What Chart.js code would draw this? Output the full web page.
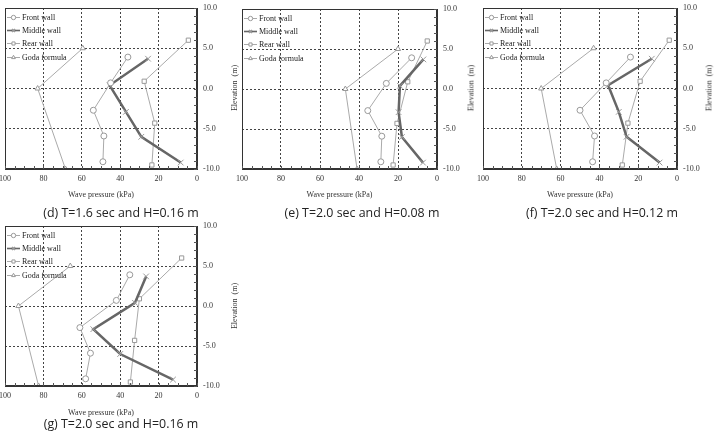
<!DOCTYPE html>
<html>
<head>
<meta charset="utf-8">
<script src="https://cdn.jsdelivr.net/npm/chart.js@4.4.0/dist/chart.umd.min.js"></script>
<style>
  body { margin: 0; background: #fff; }
  #fig { position: relative; width: 715px; height: 433px; overflow: hidden; }
  canvas { position: absolute; }
  .ytitle { position: absolute; font: 8px "Liberation Serif"; color: #333; white-space: nowrap;
            transform: translate(-50%, -50%) rotate(-90deg); }
  .cap { position: absolute; font: 12.4px "Open Sans"; color: #222; white-space: nowrap;
         transform: translate(-50%, -50%); }
</style>
</head>
<body>
<div id="fig">
  <canvas id="chartD" width="240" height="200" style="left:0;top:0"></canvas>
  <canvas id="chartE" width="250" height="200" style="left:225px;top:0"></canvas>
  <canvas id="chartF" width="250" height="200" style="left:465px;top:0"></canvas>
  <canvas id="chartG" width="240" height="200" style="left:0;top:218px"></canvas>

  <div class="ytitle" style="left:234px;top:88px">Elevation&nbsp;&nbsp;(m)</div>
  <div class="ytitle" style="left:471px;top:88px">Elevation&nbsp;&nbsp;(m)</div>
  <div class="ytitle" style="left:709px;top:88px">Elevation&nbsp;&nbsp;(m)</div>
  <div class="ytitle" style="left:234px;top:306px">Elevation&nbsp;&nbsp;(m)</div>

  <div class="cap" style="left:121px;top:212px">(d) T=1.6 sec and H=0.16 m</div>
  <div class="cap" style="left:362px;top:212px">(e) T=2.0 sec and H=0.08 m</div>
  <div class="cap" style="left:602px;top:212px">(f) T=2.0 sec and H=0.12 m</div>
  <div class="cap" style="left:121px;top:423px">(g) T=2.0 sec and H=0.16 m</div>
</div>

<script>
// elevations (m) of the gauges, same for every case
const frontElev = [3.9, 0.7, -2.7, -5.9, -9.1];
const middleElev = [3.7, 0.4, -2.9, -6.0, -9.2];
const rearElev = [6.0, 0.9, -4.3, -9.5];
const godaElev = [5.0, 0.0, -10.0];

// wave pressure (kPa)
// (d) T=1.6 sec, H=0.16 m
const frontD = [36, 45, 54, 48.5, 49];
const middleD = [25.5, 45.5, 37, 29, 8.5];
const rearD = [4.5, 27.5, 22, 23.5];
const godaD = [59.5, 83, 68.5];
// (e) T=2.0 sec, H=0.08 m
const frontE = [13, 26, 35.5, 28.3, 28.8];
const middleE = [7, 19, 19.7, 18, 7.2];
const rearE = [5, 15, 20.5, 22.5];
const godaE = [20, 47, 41];
// (f) T=2.0 sec, H=0.12 m
const frontF = [24, 36.5, 50, 42.5, 43.5];
const middleF = [13, 35.5, 30, 26, 9];
const rearF = [4, 19, 25.3, 28.2];
const godaF = [43, 70, 62];
// (g) T=2.0 sec, H=0.16 m
const frontG = [35, 42, 61, 55.5, 58];
const middleG = [26.5, 32.3, 54, 40, 12.5];
const rearG = [8, 30, 32.5, 34.7];
const godaG = [66, 93, 82.5];

const xMajor = [0, 20, 40, 60, 80, 100];
const yMajor = [-10, -5, 0, 5, 10];

const serif = { family: 'Liberation Serif', size: 8 };

function zip(xs, ys) {
  return xs.map((x, i) => ({ x: x, y: ys[i] }));
}

// plot frame, inward minor ticks and the legend in the upper left of the plot
const framePlugin = {
  id: 'frame',
  afterDraw(chart) {
    const ctx = chart.ctx;
    const ca = chart.chartArea;
    ctx.save();
    ctx.strokeStyle = '#333';
    ctx.lineWidth = 1;
    ctx.strokeRect(ca.left + 0.5, ca.top + 0.5, ca.right - ca.left - 1, ca.bottom - ca.top - 1);

    // minor ticks, pointing into the plot
    ctx.strokeStyle = '#555';
    ctx.beginPath();
    chart.scales.y.ticks.forEach(t => {
      const py = Math.round(chart.scales.y.getPixelForValue(t.value)) + 0.5;
      ctx.moveTo(ca.right, py);
      ctx.lineTo(ca.right - 3, py);
    });
    chart.scales.x.ticks.forEach(t => {
      const px = Math.round(chart.scales.x.getPixelForValue(t.value)) + 0.5;
      ctx.moveTo(px, ca.bottom);
      ctx.lineTo(px, ca.bottom - 3);
    });
    ctx.stroke();

    chart.data.datasets.forEach((ds, i) => {
      const y = Math.round(ca.top + 8.7 + i * 13.3) + 0.5;
      const x0 = ca.left + 2, x1 = ca.left + 15;
      ctx.strokeStyle = ds.borderColor;
      ctx.lineWidth = ds.borderWidth > 2 ? 1.6 : 1;
      ctx.beginPath();
      ctx.moveTo(x0, y);
      ctx.lineTo(x1, y);
      ctx.stroke();
      ctx.strokeStyle = ds.pointBorderColor;
      ctx.fillStyle = '#fff';
      Chart.helpers.drawPoint(ctx, {
        pointStyle: ds.pointStyle, radius: 2.2, rotation: 0, borderWidth: 1
      }, (x0 + x1) / 2, y);
      ctx.fillStyle = '#222';
      ctx.font = '8px "Liberation Serif"';
      ctx.textBaseline = 'middle';
      ctx.fillText(ds.label, ca.left + 17, y);
    });
    ctx.restore();
  }
};

function makePanel(id, front, middle, rear, goda, lay) {
  new Chart(id, {
    type: 'scatter',
    data: {
      datasets: [
        { label: 'Front wall', data: zip(front, frontElev), showLine: true,
          borderColor: '#aaa', borderWidth: 1, pointStyle: 'circle', pointRadius: 3,
          pointBorderColor: '#999', pointBackgroundColor: '#fff', pointBorderWidth: 1 },
        { label: 'Middle wall', data: zip(middle, middleElev), showLine: true,
          borderColor: '#666', borderWidth: 2.5, pointStyle: 'crossRot', pointRadius: 4,
          pointBorderColor: '#999', pointBackgroundColor: '#fff', pointBorderWidth: 1 },
        { label: 'Rear wall', data: zip(rear, rearElev), showLine: true,
          borderColor: '#aaa', borderWidth: 1, pointStyle: 'rect', pointRadius: 3,
          pointBorderColor: '#999', pointBackgroundColor: '#fff', pointBorderWidth: 1 },
        { label: 'Goda formula', data: zip(goda, godaElev), showLine: true,
          borderColor: '#aaa', borderWidth: 1, pointStyle: 'triangle', pointRadius: 3,
          pointBorderColor: '#999', pointBackgroundColor: '#fff', pointBorderWidth: 1 }
      ]
    },
    options: {
      responsive: false,
      animation: false,
      devicePixelRatio: 1,
      layout: { padding: { left: lay.left, top: lay.top, right: 0, bottom: 0 } },
      plugins: { legend: { display: false }, tooltip: { enabled: false } },
      scales: {
        x: {
          type: 'linear', position: 'bottom', min: 0, max: 100, reverse: true,
          afterFit(s) { s.height = lay.xh; s.paddingLeft = 0; s.paddingRight = 0; },
          ticks: {
            stepSize: 5, autoSkip: false, maxRotation: 0, padding: 5, font: serif, color: '#333',
            callback: v => xMajor.includes(v) ? String(v) : ''
          },
          grid: {
            drawTicks: false,
            color: c => (c.tick && xMajor.includes(c.tick.value) && c.tick.value > 0 && c.tick.value < 100) ? '#444' : 'rgba(0,0,0,0)'
          },
          border: { color: '#333', dash: [2, 2] },
          title: { display: true, text: 'Wave pressure (kPa)', font: serif, color: '#333', padding: { top: 2, bottom: 0 } }
        },
        y: {
          type: 'linear', position: 'right', min: -10, max: 10,
          afterFit(s) { s.width = lay.yw; s.paddingTop = 0; s.paddingBottom = 0; },
          ticks: {
            stepSize: 1, autoSkip: false, padding: 6, font: serif, color: '#333',
            callback: v => yMajor.includes(v) ? v.toFixed(1) : ''
          },
          grid: {
            drawTicks: false,
            color: c => (c.tick && yMajor.includes(c.tick.value) && Math.abs(c.tick.value) < 10) ? '#444' : 'rgba(0,0,0,0)'
          },
          border: { color: '#333', dash: [2, 2] }
        }
      }
    },
    plugins: [framePlugin]
  });
}

makePanel('chartD', frontD, middleD, rearD, godaD, { left: 3, top: 8, yw: 43, xh: 31 });
makePanel('chartE', frontE, middleE, rearE, godaE, { left: 17, top: 9, yw: 38, xh: 31 });
makePanel('chartF', frontF, middleF, rearF, godaF, { left: 18, top: 8, yw: 38, xh: 31 });
makePanel('chartG', frontG, middleG, rearG, godaG, { left: 3, top: 8, yw: 43, xh: 32 });
</script>
</body>
</html>
